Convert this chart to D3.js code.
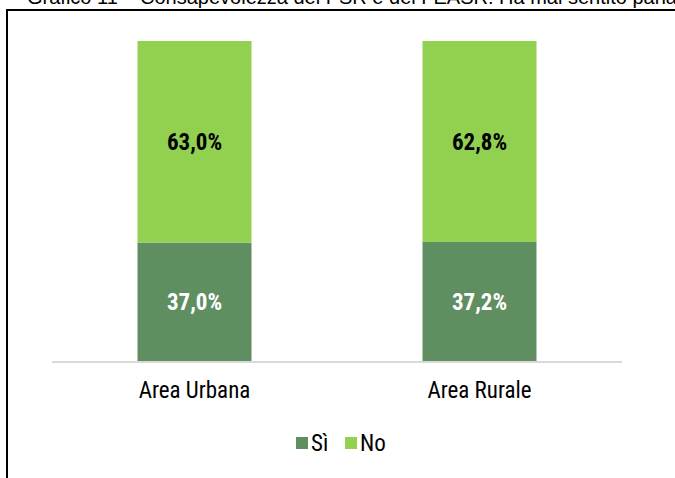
<!DOCTYPE html>
<html>
<head>
<meta charset="utf-8">
<script src="https://cdn.jsdelivr.net/npm/d3@7"></script>
<style>
  body { margin: 0; background: #fff; }
  svg { display: block; }
  text { font-family: "Liberation Sans Narrow", "Arial Narrow", "Roboto Condensed", sans-serif; }
</style>
</head>
<body>
<svg id="chart" width="675" height="478"></svg>
<script>
var categories = ['Area Urbana', 'Area Rurale'];
var seriesNames = ['Sì', 'No'];
var si = [37.0, 37.2];
var no = [63.0, 62.8];
var title = 'Grafico 11 – Consapevolezza del PSR e del FEASR: Ha mai sentito parlare';

var colors = { 'Sì': '#5f8f60', 'No': '#92d050' };

var svg = d3.select('#chart');

// title, cut off by the top edge like in the source
svg.append('text')
    .attr('x', 27)
    .attr('y', 4)
    .style('font-family', '"Liberation Sans", Arial, sans-serif')
    .style('font-size', '20px')
    .attr('fill', '#000')
    .text(title);

// frame
svg.append('path')
    .attr('d', 'M7,478 V10 H680')
    .attr('fill', 'none')
    .attr('stroke', '#000')
    .attr('stroke-width', 2);

var x = d3.scaleBand()
    .domain(categories)
    .range([52, 622])
    .paddingInner(0.6)
    .paddingOuter(0.3);

var y = d3.scaleLinear()
    .domain([0, 100])
    .range([361, 41]);

var rows = categories.map(function(c, i) {
    return { cat: c, 'Sì': si[i], 'No': no[i] };
});

var stacked = d3.stack().keys(seriesNames)(rows);

var layers = svg.selectAll('.layer')
    .data(stacked)
    .enter().append('g')
    .attr('class', 'layer')
    .attr('fill', function(d) { return colors[d.key]; });

layers.selectAll('rect')
    .data(function(d) { return d; })
    .enter().append('rect')
    .attr('x', function(d) { return x(d.data.cat); })
    .attr('width', x.bandwidth())
    .attr('y', function(d) { return y(d[1]); })
    .attr('height', function(d) { return y(d[0]) - y(d[1]); });

// value labels
layers.each(function(layer) {
    d3.select(this).selectAll('text')
        .data(layer)
        .enter().append('text')
        .attr('x', function(d) { return x(d.data.cat) + x.bandwidth() / 2; })
        .attr('y', function(d) { return (y(d[0]) + y(d[1])) / 2; })
        .attr('dy', '0.36em')
        .attr('text-anchor', 'middle')
        .style('font-size', '23px')
        .style('font-weight', 'bold')
        .attr('fill', layer.key === 'Sì' ? '#fff' : '#000')
        .text(function(d) { return (d[1] - d[0]).toFixed(1).replace('.', ',') + '%'; });
});

// x axis
var xAxis = svg.append('g')
    .attr('transform', 'translate(0,362)')
    .call(d3.axisBottom(x).tickSize(0).tickPadding(20));
xAxis.attr('font-family', null).attr('font-size', null);
xAxis.select('.domain')
    .attr('stroke', '#d9d9d9')
    .attr('stroke-width', 2)
    .attr('d', 'M52,0H622');
xAxis.selectAll('text')
    .style('font-size', '23px')
    .attr('fill', '#000');

// legend
var legend = svg.append('g').attr('transform', 'translate(296,443)');
var legendX = [0, 49];
seriesNames.forEach(function(name, i) {
    var g = legend.append('g').attr('transform', 'translate(' + legendX[i] + ',0)');
    g.append('rect')
        .attr('x', 0)
        .attr('y', -6)
        .attr('width', 12)
        .attr('height', 12)
        .attr('fill', colors[name]);
    g.append('text')
        .attr('x', 15)
        .attr('y', 0)
        .attr('dy', '0.36em')
        .style('font-size', '23px')
        .attr('fill', '#000')
        .text(name);
});
</script>
</body>
</html>
